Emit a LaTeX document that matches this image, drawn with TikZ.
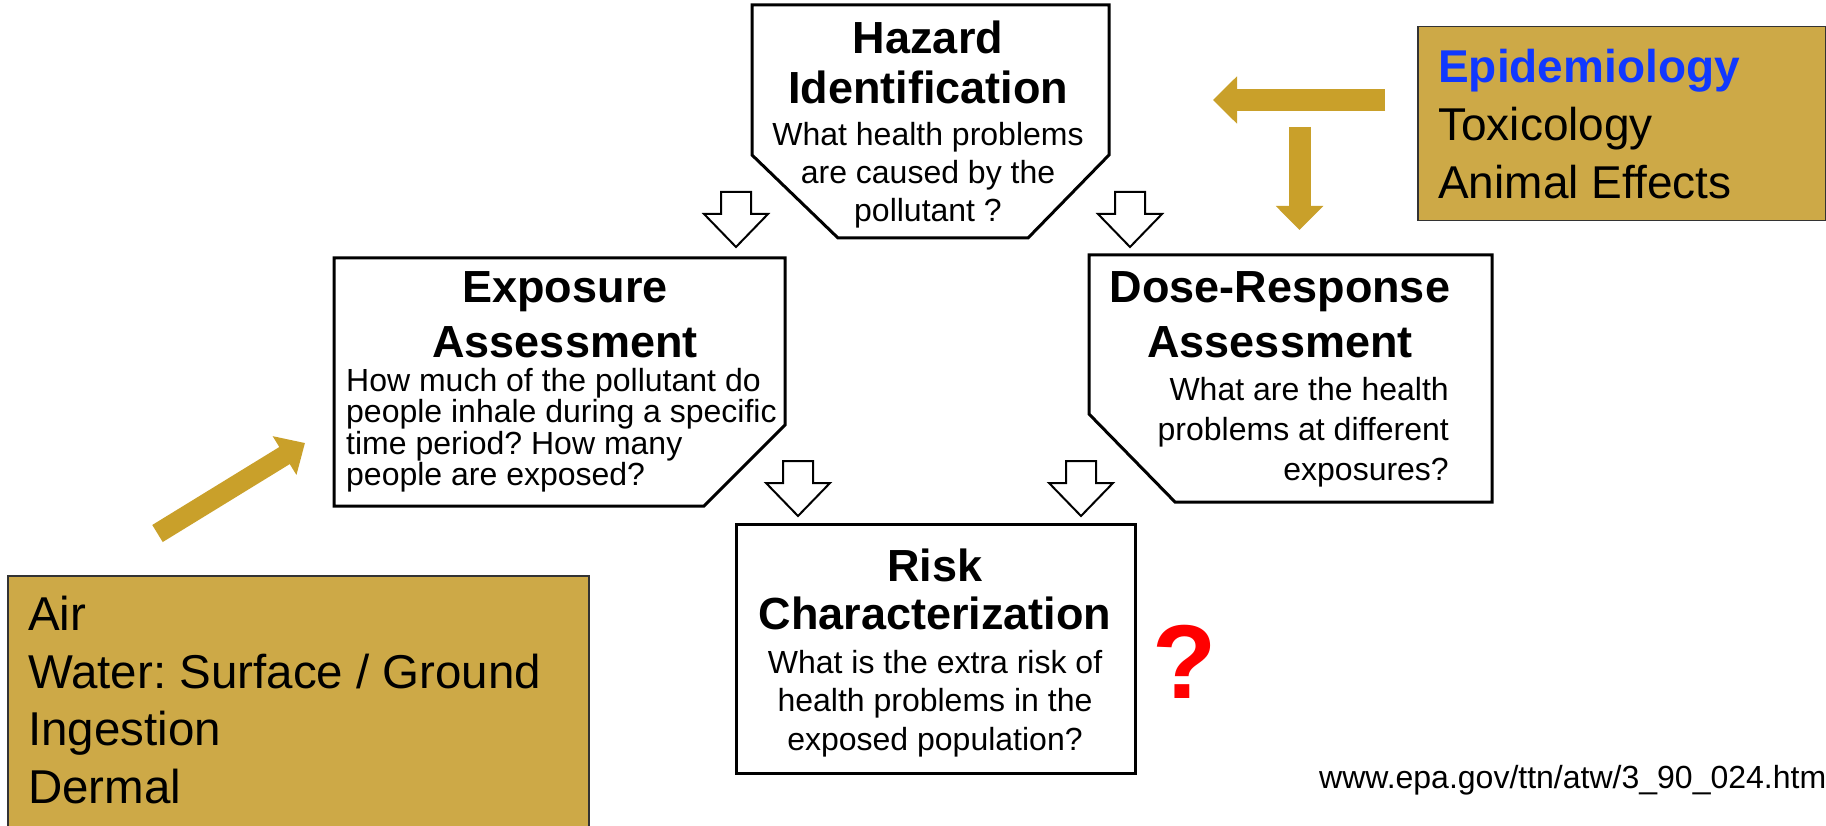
\documentclass[tikz,border=0pt]{standalone}
\usepackage{fontspec}
\setmainfont{Liberation Sans}
\usetikzlibrary{arrows.meta}
\frenchspacing

\definecolor{boxgold}{RGB}{205,169,71}
\definecolor{arrowgold}{RGB}{201,160,42}
\definecolor{epiblue}{RGB}{16,56,255}

\tikzset{
  stepshape/.style={draw=black, line width=3pt, fill=white},
  steptitle/.style={font=\fontsize{45}{#1}\selectfont\bfseries, align=center, inner sep=0pt},
  stepquestion/.style={font=\fontsize{32}{#1}\selectfont, inner sep=0pt},
  hollowarrow/.style={draw=black, line width=2pt, fill=white},
  goldbox/.style={draw=black!80, line width=1.5pt, fill=boxgold, anchor=north west, inner sep=0pt},
  goldtext/.style={font=\fontsize{47.5}{57.5}\selectfont, align=left, anchor=north west, inner sep=0pt},
  goldarrow/.style={draw=arrowgold, line width=22pt, -{Triangle[length=24pt, width=46pt]}},
}

% hollow block arrow pointing down, top centre at #1
\newcommand{\blockarrow}[1]{%
  \draw[hollowarrow] (#1) ++(-15,0) -- ++(30,0) -- ++(0,22) -- ++(17,0)
    -- ++(-32,33) -- ++(-32,-33) -- ++(17,0) -- cycle;}

\begin{document}
\begin{tikzpicture}[x=1pt, y=-1pt]%[show background grid]
    \useasboundingbox (0,0) rectangle (1826,826);
    \fill[white] (0,0) rectangle (1826,826);

    % hazard identification
    \draw[stepshape] (752,5) -- (1109,5) -- (1109,155) -- (1028,238) -- (838,238) -- (752,155) -- cycle;
    \node[steptitle=50] (hazard) at (928,62.5) {Hazard\\Identification};
    \node[stepquestion=38, align=center] (hazardq) at (928,175.7) {What health problems\\are caused by the\\pollutant ?};

    % exposure assessment
    \draw[stepshape] (334,258) -- (785,258) -- (785,425) -- (704,506) -- (334,506) -- cycle;
    \node[steptitle=55] (exposure) at (565,315) {Exposure\\Assessment};
    \node[stepquestion=31.5, align=left, anchor=west] (exposureq) at (346,430.4) {How much of the pollutant do\\people inhale during a specific\\time period? How many\\people are exposed?};

    % dose-response assessment
    \draw[stepshape] (1089,255) -- (1492,255) -- (1492,502) -- (1175,502) -- (1089,414) -- cycle;
    \node[steptitle=55] (dose) at (1280,315) {Dose-Response\\Assessment};
    \node[stepquestion=40, align=right, anchor=east] (doseq) at (1449,432) {What are the health\\problems at different\\exposures?};

    % risk characterization
    \draw[stepshape] (736,524) rectangle (1135,773);
    \node[steptitle=48] (risk) at (935,589.5) {Risk\\Characterization};
    \node[stepquestion=38.5, align=center] (riskq) at (935,703.4) {What is the extra risk of\\health problems in the\\exposed population?};

    \node[text=red, font=\fontsize{105}{110}\selectfont\bfseries, inner sep=0pt] (unknown) at (1184.5,661.5) {?};

    \coordinate (hz-ex) at (736,192);
    \coordinate (hz-dr) at (1130,192);
    \coordinate (ex-rc) at (798,461);
    \coordinate (dr-rc) at (1081,461);
    \blockarrow{hz-ex}
    \blockarrow{hz-dr}
    \blockarrow{ex-rc}
    \blockarrow{dr-rc}

    % data sources
    \node[goldbox, minimum width=408pt, minimum height=194pt] (sources) at (1417,26) {};
    \node[goldtext, font=\fontsize{46}{58}\selectfont] (sourcestext) at (1438,49) {\textcolor{epiblue}{\textbf{Epidemiology}}\\Toxicology\\Animal Effects};

    \node[goldbox, minimum width=581pt, minimum height=262pt] (media) at (7,575) {};
    \node[goldtext] (mediatext) at (28,596) {Air\\Water: Surface / Ground\\Ingestion\\Dermal};

    \coordinate (sources-left) at (1385,100);
    \coordinate (hazard-in) at (1213,100);
    \coordinate (sources-down) at (1299.5,127);
    \coordinate (dose-in) at (1299.5,230);
    \coordinate (media-up) at (157.5,533.5);
    \coordinate (exposure-in) at (305,443);
    \draw[goldarrow] (sources-left) -- (hazard-in);
    \draw[goldarrow] (sources-down) -- (dose-in);
    \draw[goldarrow, line width=20pt, -{Triangle[length=24pt, width=44pt]}] (media-up) -- (exposure-in);

    \node[font=\fontsize{32}{36}\selectfont, anchor=base west, inner sep=0pt] (url) at (1319,788) {www.epa.gov/ttn/atw/3\_90\_024.htm};
\end{tikzpicture}
\end{document}
